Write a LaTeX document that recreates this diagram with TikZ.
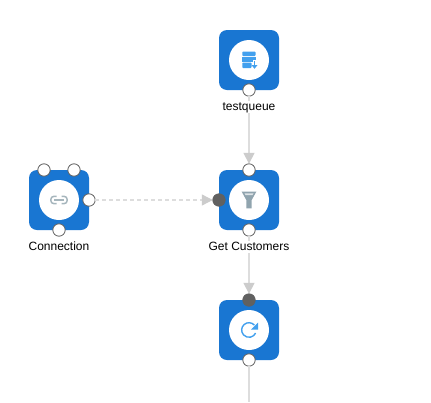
\documentclass[tikz,border=0pt]{standalone}
\usepackage{fontspec}
\setmainfont{Liberation Sans}
\usetikzlibrary{arrows.meta}
\definecolor{nodeblue}{HTML}{1976D2}
\definecolor{iconblue}{HTML}{42A0EE}
\definecolor{icongrey}{HTML}{90A4AE}
\definecolor{linkgrey}{HTML}{A6B6BD}
\definecolor{linegrey}{HTML}{DDDDDD}
\definecolor{headgrey}{HTML}{CCCCCC}
\definecolor{portdark}{HTML}{616161}
\tikzset{
  x=1pt,y=-1pt,
  tilebox/.style={fill=nodeblue,draw=none,rounded corners=8pt,minimum size=60pt,inner sep=0,outer sep=0},
  disc/.style={fill=white,draw=none,circle,minimum size=40pt,inner sep=0},
  portopen/.style={circle,fill=white,draw=portdark,line width=0.8pt,minimum size=12.4pt,inner sep=0,outer sep=0},
  portfull/.style={circle,fill=portdark,draw=portdark,line width=0.8pt,minimum size=12.4pt,inner sep=0,outer sep=0},
  caption/.style={font=\fontsize{12}{14}\selectfont,text=black,anchor=base,fill=white,inner xsep=0,inner ysep=0,text height=9pt,text depth=2.5pt},
  flow/.style={draw=linegrey,line width=1.5pt,-{Triangle[length=11pt,width=11pt,color=headgrey]}},
  dataflow/.style={flow,dash pattern=on 4pt off 3pt,line width=1.1pt},
  plainflow/.style={draw=linegrey,line width=1.5pt}
}
\begin{document}
\begin{tikzpicture}
\useasboundingbox (0,0) rectangle (431,402);
\fill[white] (0,0) rectangle (431,402);

% tiles
\node[tilebox] (t) at (249,60) {};
\node[tilebox] (g) at (249,200) {};
\node[tilebox] (r) at (249,330) {};
\node[tilebox] (c) at (59,200) {};
\node[disc] at (t) {};
\node[disc] at (g) {};
\node[disc] at (r) {};
\node[disc] at (c) {};

% ports
\coordinate (rend) at (249,402);
\node[portopen] (tb) at (249,90) {};
\node[portopen] (gt) at (249,170) {};
\node[portfull] (gw) at (219,200) {};
\node[portopen] (gb) at (249,230) {};
\node[portfull] (rt) at (249,300) {};
\node[portopen] (rb) at (249,360) {};
\node[portopen] (ce) at (89,200) {};
\node[portopen] (cb) at (59,230) {};
\node[portopen] (ca) at (44,170) {};
\node[portopen] (cd) at (74,170) {};

% connectors
\draw[flow] (tb) -- (gt);
\draw[flow] (gb) -- (rt);
\draw[dataflow] (ce) -- (gw);
\draw[plainflow] (rb) -- (rend);

% captions
\node[caption] (tl) at (249,110) {testqueue};
\node[caption] (gl) at (249,250) {Get Customers};
\node[caption] (cl) at (59,250) {Connection};

% icon: queue / database with arrow
\fill[iconblue,rounded corners=0.8pt] (242.3,51.5) rectangle (255.5,56);
\fill[iconblue] (242.3,57) rectangle (255.5,61.5);
\fill[iconblue,rounded corners=0.8pt] (242.3,62.5) rectangle (251.5,68);
\draw[white,line width=3pt] (254.5,60) -- (254.5,68);
\draw[iconblue,line width=1.3pt] (254.5,61) -- (254.5,66);
\fill[iconblue] (251.5,65) -- (257.5,65) -- (254.5,68.8) -- cycle;

% icon: filter
\fill[icongrey] (241.7,191.7) -- (256.3,191.7) -- (251.7,200) -- (251.7,208.3) -- (246.3,208.3) -- (246.3,200) -- cycle;
\fill[white!70!icongrey] (244.5,193.3) -- (253.5,193.3) -- (252.6,195) -- (245.4,195) -- cycle;

% icon: link
\draw[linkgrey,line width=1.5pt,rounded corners=3.2pt] (56.5,196.3) -- (50.8,196.3) -- (50.8,203.7) -- (56.5,203.7);
\draw[linkgrey,line width=1.5pt,rounded corners=3.2pt] (61.5,196.3) -- (67.2,196.3) -- (67.2,203.7) -- (61.5,203.7);
\draw[linkgrey,line width=1.5pt] (54,200) -- (64,200);

% icon: refresh
\draw[iconblue,line width=1.4pt] (254.4,325.1) arc[start angle=-42,end angle=-335,radius=7.3];
\fill[iconblue] (258,322.5) -- (258,329.5) -- (251,329.5) -- cycle;
\end{tikzpicture}
\end{document}
